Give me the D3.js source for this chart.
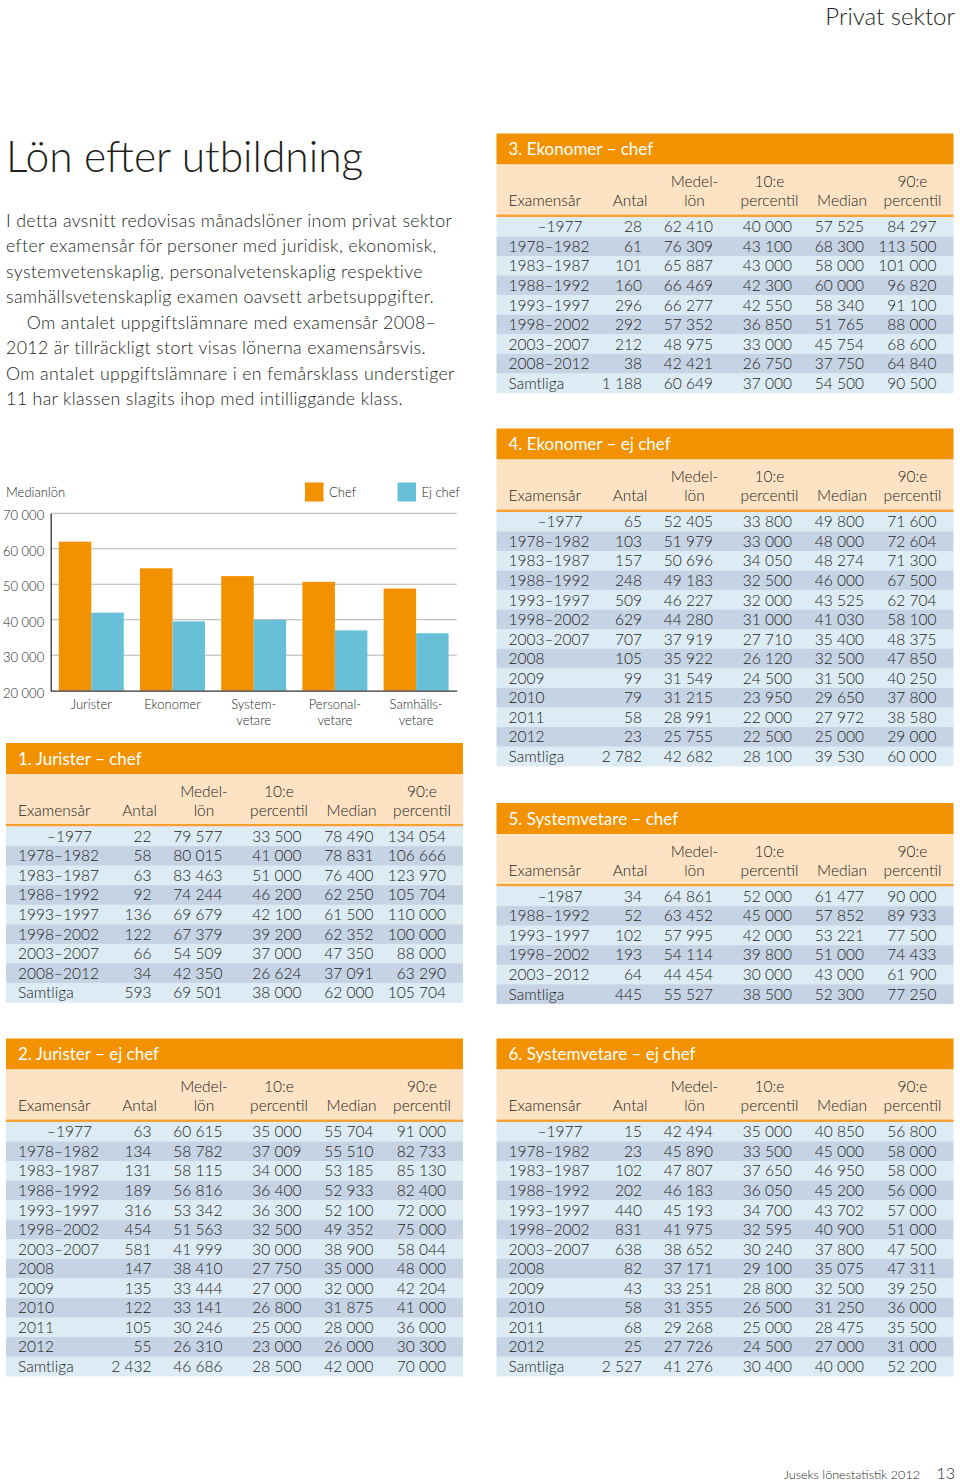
<!DOCTYPE html>
<html>
<head>
<meta charset="utf-8">
<script src="https://cdn.jsdelivr.net/npm/d3@7"></script>
<style>
  html, body { margin: 0; padding: 0; background: #fff; }
  svg { display: block; font-family: Lato, "Open Sans", sans-serif; font-weight: 300; }
</style>
</head>
<body>
<svg id="page" width="960" height="1484"></svg>
<script>
// ---------- DATA ----------
const chartCategories = ["Jurister", "Ekonomer", "System-|vetare", "Personal-|vetare", "Samhälls-|vetare"];
const seriesNames = ["Chef", "Ej chef"];
const chefMedian = [62000, 54500, 52300, 50700, 48800];
const ejChefMedian = [42000, 39530, 40000, 37000, 36200];
const yTicks = [20000, 30000, 40000, 50000, 60000, 70000];

const tableColumns = ["Examensår", "Antal", "Medel-|lön", "10:e|percentil", "Median", "90:e|percentil"];

const juristerChef = [
  ["–1977", 22, 79577, 33500, 78490, 134054],
  ["1978–1982", 58, 80015, 41000, 78831, 106666],
  ["1983–1987", 63, 83463, 51000, 76400, 123970],
  ["1988–1992", 92, 74244, 46200, 62250, 105704],
  ["1993–1997", 136, 69679, 42100, 61500, 110000],
  ["1998–2002", 122, 67379, 39200, 62352, 100000],
  ["2003–2007", 66, 54509, 37000, 47350, 88000],
  ["2008–2012", 34, 42350, 26624, 37091, 63290],
  ["Samtliga", 593, 69501, 38000, 62000, 105704]
];
const juristerEjChef = [
  ["–1977", 63, 60615, 35000, 55704, 91000],
  ["1978–1982", 134, 58782, 37009, 55510, 82733],
  ["1983–1987", 131, 58115, 34000, 53185, 85130],
  ["1988–1992", 189, 56816, 36400, 52933, 82400],
  ["1993–1997", 316, 53342, 36300, 52100, 72000],
  ["1998–2002", 454, 51563, 32500, 49352, 75000],
  ["2003–2007", 581, 41999, 30000, 38900, 58044],
  ["2008", 147, 38410, 27750, 35000, 48000],
  ["2009", 135, 33444, 27000, 32000, 42204],
  ["2010", 122, 33141, 26800, 31875, 41000],
  ["2011", 105, 30246, 25000, 28000, 36000],
  ["2012", 55, 26310, 23000, 26000, 30300],
  ["Samtliga", 2432, 46686, 28500, 42000, 70000]
];
const ekonomerChef = [
  ["–1977", 28, 62410, 40000, 57525, 84297],
  ["1978–1982", 61, 76309, 43100, 68300, 113500],
  ["1983–1987", 101, 65887, 43000, 58000, 101000],
  ["1988–1992", 160, 66469, 42300, 60000, 96820],
  ["1993–1997", 296, 66277, 42550, 58340, 91100],
  ["1998–2002", 292, 57352, 36850, 51765, 88000],
  ["2003–2007", 212, 48975, 33000, 45754, 68600],
  ["2008–2012", 38, 42421, 26750, 37750, 64840],
  ["Samtliga", 1188, 60649, 37000, 54500, 90500]
];
const ekonomerEjChef = [
  ["–1977", 65, 52405, 33800, 49800, 71600],
  ["1978–1982", 103, 51979, 33000, 48000, 72604],
  ["1983–1987", 157, 50696, 34050, 48274, 71300],
  ["1988–1992", 248, 49183, 32500, 46000, 67500],
  ["1993–1997", 509, 46227, 32000, 43525, 62704],
  ["1998–2002", 629, 44280, 31000, 41030, 58100],
  ["2003–2007", 707, 37919, 27710, 35400, 48375],
  ["2008", 105, 35922, 26120, 32500, 47850],
  ["2009", 99, 31549, 24500, 31500, 40250],
  ["2010", 79, 31215, 23950, 29650, 37800],
  ["2011", 58, 28991, 22000, 27972, 38580],
  ["2012", 23, 25755, 22500, 25000, 29000],
  ["Samtliga", 2782, 42682, 28100, 39530, 60000]
];
const systemvetareChef = [
  ["–1987", 34, 64861, 52000, 61477, 90000],
  ["1988–1992", 52, 63452, 45000, 57852, 89933],
  ["1993–1997", 102, 57995, 42000, 53221, 77500],
  ["1998–2002", 193, 54114, 39800, 51000, 74433],
  ["2003–2012", 64, 44454, 30000, 43000, 61900],
  ["Samtliga", 445, 55527, 38500, 52300, 77250]
];
const systemvetareEjChef = [
  ["–1977", 15, 42494, 35000, 40850, 56800],
  ["1978–1982", 23, 45890, 33500, 45000, 58000],
  ["1983–1987", 102, 47807, 37650, 46950, 58000],
  ["1988–1992", 202, 46183, 36050, 45200, 56000],
  ["1993–1997", 440, 45193, 34700, 43702, 57000],
  ["1998–2002", 831, 41975, 32595, 40900, 51000],
  ["2003–2007", 638, 38652, 30240, 37800, 47500],
  ["2008", 82, 37171, 29100, 35075, 47311],
  ["2009", 43, 33251, 28800, 32500, 39250],
  ["2010", 58, 31355, 26500, 31250, 36000],
  ["2011", 68, 29268, 25000, 28475, 35500],
  ["2012", 25, 27726, 24500, 27000, 31000],
  ["Samtliga", 2527, 41276, 30400, 40000, 52200]
];

const introLines = [
  "I detta avsnitt redovisas månadslöner inom privat sektor",
  "efter examensår för personer med juridisk, ekonomisk,",
  "systemvetenskaplig, personalvetenskaplig respektive",
  "samhällsvetenskaplig examen oavsett arbetsuppgifter.",
  "    Om antalet uppgiftslämnare med examensår 2008–",
  "2012 är tillräckligt stort visas lönerna examensårsvis.",
  "Om antalet uppgiftslämnare i en femårsklass understiger",
  "11 har klassen slagits ihop med intilliggande klass."
];

// ---------- STYLE ----------
const ORANGE = "#f39200";
const BLUE = "#67bfd8";
const PEACH = "#fde2c4";
const ROW_LIGHT = "#dcebf4";
const ROW_DARK = "#c6d3e4";
const TEXT = "#231f20";

const locale = d3.formatLocale({decimal: ",", thousands: "\u00a0", grouping: [3], currency: ["", " kr"]});
const fmt = locale.format(",d");

const svg = d3.select("#page");

// Header text
svg.append("text").attr("x", 955).attr("y", 25).attr("text-anchor", "end")
  .attr("font-size", 24).attr("fill", TEXT).text("Privat sektor");

svg.append("text").attr("x", 6).attr("y", 172)
  .attr("font-size", 42.5).attr("fill", TEXT).text("Lön efter utbildning");

svg.append("g").selectAll("text").data(introLines).join("text")
  .attr("x", 6).attr("y", (d, i) => 226.5 + i * 25.5)
  .attr("font-size", 17.8).attr("letter-spacing", 0.35).attr("fill", TEXT)
  .attr("xml:space", "preserve").style("white-space", "pre")
  .text(d => d);

// Footer
svg.append("text").attr("x", 920).attr("y", 1479).attr("text-anchor", "end")
  .attr("font-size", 12.6).attr("fill", TEXT).text("Juseks lönestatistik 2012");
svg.append("text").attr("x", 955).attr("y", 1479).attr("text-anchor", "end")
  .attr("font-size", 16).attr("fill", TEXT).text("13");

// ---------- BAR CHART ----------
const plotLeft = 50.7, plotRight = 456.7, plotTop = 513.3, plotBottom = 690.7;
const y = d3.scaleLinear().domain([20000, 70000]).range([plotBottom, plotTop]);
const x0 = d3.scaleBand().domain(chartCategories).range([plotLeft, plotRight]).paddingInner(0.2).paddingOuter(0.1);
const x1 = d3.scaleBand().domain(seriesNames).range([0, x0.bandwidth()]);
const color = d3.scaleOrdinal().domain(seriesNames).range([ORANGE, BLUE]);

const chart = svg.append("g");
// grid
chart.append("g").selectAll("line").data(yTicks.slice(1)).join("line")
  .attr("x1", plotLeft).attr("x2", plotRight)
  .attr("y1", d => y(d)).attr("y2", d => y(d))
  .attr("stroke", "#b3b3b3").attr("stroke-width", 1);

const barData = chartCategories.map((c, i) => ({cat: c, values: [
  {s: "Chef", v: chefMedian[i]}, {s: "Ej chef", v: ejChefMedian[i]}]}));

chart.append("g").selectAll("g").data(barData).join("g")
  .attr("transform", d => `translate(${x0(d.cat)},0)`)
  .selectAll("rect").data(d => d.values).join("rect")
  .attr("x", d => x1(d.s)).attr("width", x1.bandwidth())
  .attr("y", d => y(d.v)).attr("height", d => y(20000) - y(d.v))
  .attr("fill", d => color(d.s));

// axes
const yAxis = d3.axisLeft(y).tickValues(yTicks).tickSize(0).tickFormat(fmt);
const ya = chart.append("g").attr("transform", `translate(${plotLeft},0)`).call(yAxis);
ya.select(".domain").attr("stroke", "#333").attr("stroke-width", 1.3);
ya.selectAll("text").attr("x", -6.5).attr("dy", "0.5em")
  .attr("font-family", "Lato, sans-serif").attr("font-weight", 300)
  .attr("font-size", 13).attr("fill", TEXT);

const xAxis = d3.axisBottom(x0).tickSize(0).tickFormat("");
const xa = chart.append("g").attr("transform", `translate(0,${plotBottom})`).call(xAxis);
xa.select(".domain").attr("stroke", "#333").attr("stroke-width", 1.3);

chart.append("g").selectAll("text").data(chartCategories).join("text")
  .attr("text-anchor", "middle").attr("font-size", 13).attr("fill", TEXT)
  .attr("transform", d => `translate(${x0(d) + x0.bandwidth() / 2},${plotBottom + 18})`)
  .selectAll("tspan").data(d => d.split("|")).join("tspan")
  .attr("x", 0).attr("dy", (d, i) => i === 0 ? 0 : 16).text(d => d);

chart.append("text").attr("x", 6).attr("y", 497).attr("font-size", 13)
  .attr("fill", TEXT).text("Medianlön");

// legend
const legendPos = [305, 397.5];
const lg = chart.append("g").selectAll("g").data(seriesNames).join("g")
  .attr("transform", (d, i) => `translate(${legendPos[i]},482.5)`);
lg.append("rect").attr("width", 18.5).attr("height", 19).attr("fill", d => color(d));
lg.append("text").attr("x", 24).attr("y", 14.5).attr("font-size", 13).attr("fill", TEXT).text(d => d);

// ---------- TABLES ----------
const TW = 457, TITLE_H = 31, HEAD_END = 81, LINE_END = 83.5, ROW_H = 19.55;
// column anchors relative to table left
const colData = [
  {x: 12, anchor: "start"},
  {x: 145.5, anchor: "end"},
  {x: 216.5, anchor: "end"},
  {x: 295.5, anchor: "end"},
  {x: 367.5, anchor: "end"},
  {x: 440, anchor: "end"}
];
const colHead = [
  {x: 12, anchor: "start"},
  {x: 151, anchor: "end"},
  {x: 198, anchor: "middle"},
  {x: 273, anchor: "middle"},
  {x: 370.5, anchor: "end"},
  {x: 416, anchor: "middle"}
];

function drawTable(left, top, title, rows) {
  const g = svg.append("g").attr("transform", `translate(${left},${top})`);
  g.append("rect").attr("width", TW).attr("height", TITLE_H).attr("fill", ORANGE);
  g.append("text").attr("x", 12).attr("y", TITLE_H / 2).attr("dy", "0.36em")
    .attr("font-size", 17).attr("fill", "#fff").attr("font-weight", 400).text(title);
  g.append("rect").attr("y", TITLE_H).attr("width", TW).attr("height", HEAD_END - TITLE_H).attr("fill", PEACH);
  g.append("rect").attr("y", HEAD_END).attr("width", TW).attr("height", LINE_END - HEAD_END).attr("fill", "#f5a030");

  // header
  tableColumns.forEach((c, i) => {
    const parts = c.split("|");
    const lines = parts.length === 2 ? parts : [null, parts[0]];
    lines.forEach((t, j) => {
      if (t === null) return;
      g.append("text").attr("x", colHead[i].x).attr("y", 48 + j * 19).attr("dy", "0.36em")
        .attr("text-anchor", colHead[i].anchor).attr("font-size", 15.5).attr("fill", TEXT).text(t);
    });
  });

  const rg = g.selectAll("g.row").data(rows).join("g").attr("class", "row")
    .attr("transform", (d, i) => `translate(0,${LINE_END + i * ROW_H})`);
  rg.append("rect").attr("width", TW).attr("height", ROW_H + 0.3)
    .attr("fill", (d, i) => i % 2 === 0 ? ROW_LIGHT : ROW_DARK);
  rg.each(function(d) {
    const r = d3.select(this);
    d.forEach((v, i) => {
      let xx = colData[i].x, anchor = colData[i].anchor;
      if (i === 0 && String(v).startsWith("–")) { xx = 86; anchor = "end"; }
      r.append("text").attr("x", xx).attr("y", ROW_H / 2).attr("dy", "0.36em")
        .attr("text-anchor", anchor).attr("font-size", 15.5).attr("fill", TEXT)
        .text(i === 0 ? v : fmt(v));
    });
  });
}

drawTable(6, 743, "1. Jurister – chef", juristerChef);
drawTable(6, 1038.5, "2. Jurister – ej chef", juristerEjChef);
drawTable(496.5, 133.5, "3. Ekonomer – chef", ekonomerChef);
drawTable(496.5, 428.5, "4. Ekonomer – ej chef", ekonomerEjChef);
drawTable(496.5, 803, "5. Systemvetare – chef", systemvetareChef);
drawTable(496.5, 1038.5, "6. Systemvetare – ej chef", systemvetareEjChef);
</script>
</body>
</html>
